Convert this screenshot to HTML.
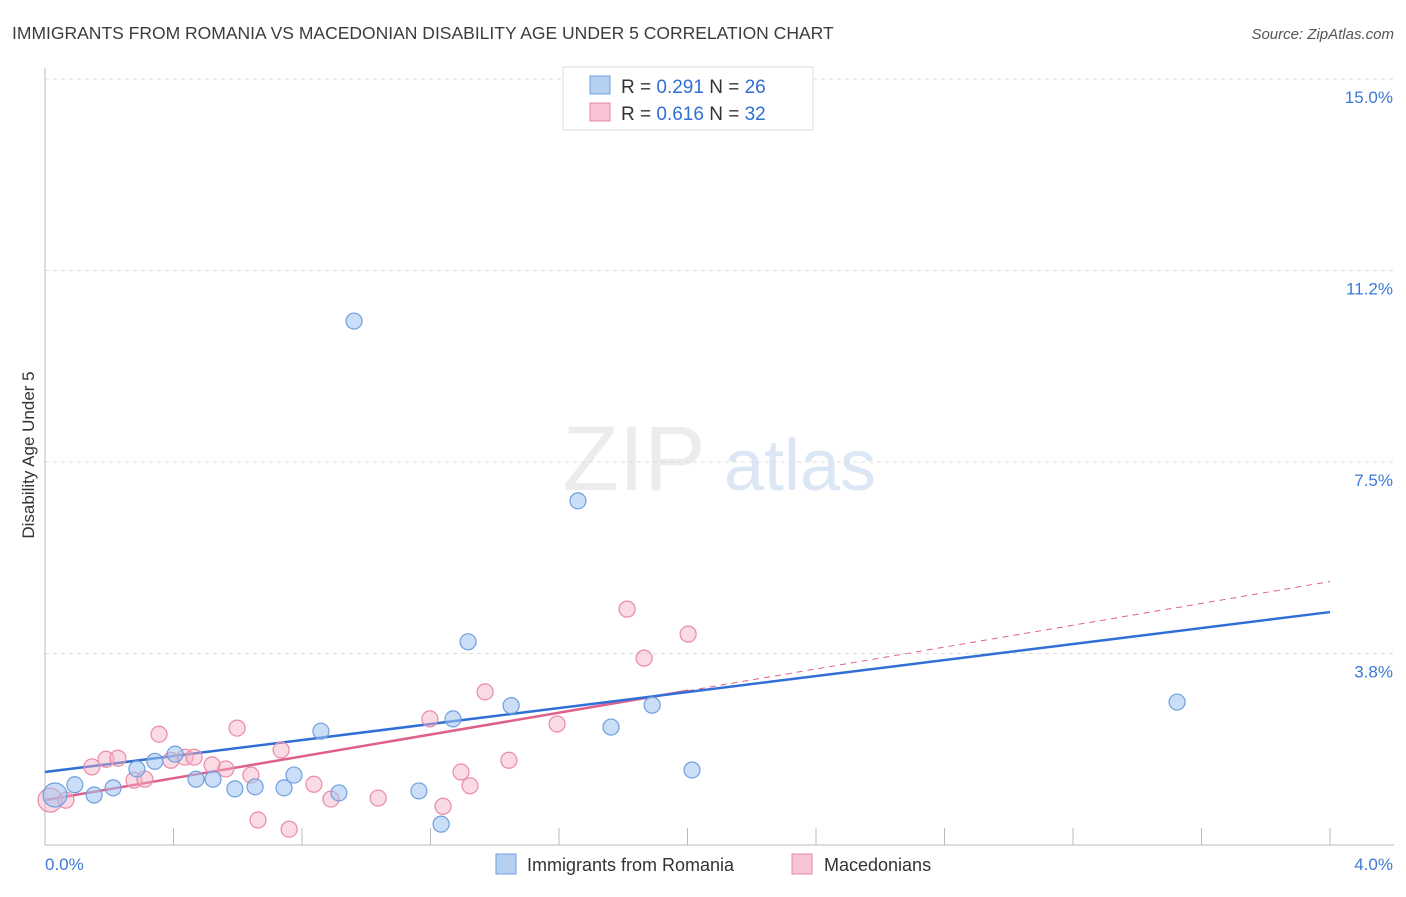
<!DOCTYPE html>
<html><head><meta charset="utf-8"><style>
body{margin:0;background:#fff;font-family:"Liberation Sans",sans-serif}
svg text{font-family:"Liberation Sans",sans-serif}
</style></head><body>
<svg width="1406" height="892" viewBox="0 0 1406 892">
<text x="12" y="39" font-size="17.5" fill="#3c3c3c">IMMIGRANTS FROM ROMANIA VS MACEDONIAN DISABILITY AGE UNDER 5 CORRELATION CHART</text>
<text x="1394" y="39" font-size="15" fill="#555" font-style="italic" text-anchor="end">Source: ZipAtlas.com</text>
<g>
<text x="634" y="490" font-size="92" fill="#ececec" font-family="Liberation Serif" text-anchor="middle">ZIP</text>
<text x="800" y="490" font-size="72" fill="#dce7f5" text-anchor="middle">atlas</text>
</g>
<g id="grid"></g>
<g id="axes"></g>
<g id="lines"></g>
<g id="points"></g>
<text transform="translate(34,455) rotate(-90)" font-size="17" fill="#333" text-anchor="middle">Disability Age Under 5</text>
<g>
<rect x="563" y="67" width="250" height="63" fill="#fff" stroke="#ddd"/>
<rect x="590" y="76" width="20" height="18" fill="#b6d0f2" stroke="#6f9fde"/>
<text x="621" y="93" font-size="19" fill="#333">R = <tspan fill="#2f6fd6">0.291</tspan>   N = <tspan fill="#2f6fd6">26</tspan></text>
<rect x="590" y="103" width="20" height="18" fill="#f8c3d2" stroke="#e98aa6"/>
<text x="621" y="120" font-size="19" fill="#333">R = <tspan fill="#2f6fd6">0.616</tspan>   N = <tspan fill="#2f6fd6">32</tspan></text>
</g>
<g>
<rect x="496" y="854" width="20" height="20" fill="#b6d0f2" stroke="#6f9fde"/>
<text x="527" y="871" font-size="18" fill="#333">Immigrants from Romania</text>
<rect x="792" y="854" width="20" height="20" fill="#f8c3d2" stroke="#e98aa6"/>
<text x="824" y="871" font-size="18" fill="#333">Macedonians</text>
</g>
</svg>
<script>
const yTicks=[3.75,7.5,11.25,15];
const yTickLabels=["3.8%","7.5%","11.2%","15.0%"];
const xTickLabels=["0.0%","4.0%"];
const blueX=[0.031,0.093,0.153,0.212,0.286,0.342,0.405,0.470,0.523,0.591,0.654,0.744,0.775,0.859,0.915,0.962,1.164,1.233,1.270,1.317,1.451,1.659,1.762,1.890,2.014,3.524];
const blueY=[0.98,1.18,0.98,1.12,1.49,1.64,1.78,1.29,1.29,1.10,1.14,1.12,1.37,2.23,1.02,10.26,1.06,0.41,2.47,3.98,2.73,6.74,2.31,2.74,1.47,2.80];
const pinkX=[0.016,0.065,0.146,0.190,0.227,0.277,0.311,0.355,0.392,0.436,0.464,0.520,0.563,0.598,0.641,0.663,0.735,0.760,0.837,0.890,1.037,1.198,1.239,1.295,1.323,1.370,1.444,1.594,1.812,1.865,2.002];
const pinkY=[0.88,0.88,1.53,1.68,1.70,1.27,1.29,2.17,1.66,1.72,1.72,1.57,1.49,2.29,1.37,0.49,1.86,0.31,1.19,0.90,0.92,2.47,0.76,1.43,1.16,3.00,1.66,2.37,4.62,3.66,4.13];
const blueTrend=[1.43,0.783];
const pinkTrend=[0.88,1.07];
const X=v=>45+v*321.25, Y=v=>79+(15-v)*51.07;
const NS="http://www.w3.org/2000/svg";
function mk(tag,parent,attrs){const e=document.createElementNS(NS,tag);for(const k in attrs)e.setAttribute(k,attrs[k]);document.getElementById(parent).appendChild(e);return e;}
yTicks.forEach((t,i)=>{
 const l=mk('line','grid',{x1:45,x2:1394,y1:Y(t),y2:Y(t),stroke:'#ddd','stroke-dasharray':'4,4'});
 
 
 const tx=mk('text','axes',{x:1393,y:Y(t)+24,'font-size':17,fill:'#3b78d8','text-anchor':'end'});
 tx.textContent=yTickLabels[i];
 
 
});
const ya=mk('line','axes',{x1:45,x2:45,y1:68,y2:845,stroke:'#bbb'});


const xa=mk('line','axes',{x1:45,x2:1394,y1:845,y2:845,stroke:'#bbb'});


for(let i=0;i<=10;i++){
 const t=mk('line','axes',{x1:X(i*0.4),x2:X(i*0.4),y1:828,y2:845,stroke:'#bbb'});
 
 
}
[[0,'start',45],[4,'end',1393]].forEach((d,i)=>{
 const t=mk('text','axes',{x:d[2],y:870,'font-size':17,fill:'#3b78d8','text-anchor':d[1]});
 t.textContent=xTickLabels[i];
 
 
});
function dot(x,y,i,blue){
 const c=mk('circle','points',{cx:X(x),cy:Y(y),r:i==0?12:8,fill:blue?'rgba(160,195,240,0.55)':'rgba(245,175,195,0.45)',stroke:blue?'#6f9fde':'#e98aa6','stroke-width':1.2});
 
 
}
pinkX.forEach((x,i)=>dot(x,pinkY[i],i,false));
blueX.forEach((x,i)=>dot(x,blueY[i],i,true));
const pMax=Math.max(...pinkX);
const p1=mk('line','lines',{x1:X(0),y1:Y(pinkTrend[0]),x2:X(pMax),y2:Y(pinkTrend[0]+pinkTrend[1]*pMax),stroke:'#e0608c','stroke-width':2.5});


const p2=mk('line','lines',{x1:X(pMax),y1:Y(pinkTrend[0]+pinkTrend[1]*pMax),x2:X(4),y2:Y(pinkTrend[0]+pinkTrend[1]*4),stroke:'#e0608c','stroke-width':1,'stroke-dasharray':'6,5'});


const b1=mk('line','lines',{x1:X(0),y1:Y(blueTrend[0]),x2:X(4),y2:Y(blueTrend[0]+blueTrend[1]*4),stroke:'#2f6fd6','stroke-width':2.5});


</script>
</body></html>
